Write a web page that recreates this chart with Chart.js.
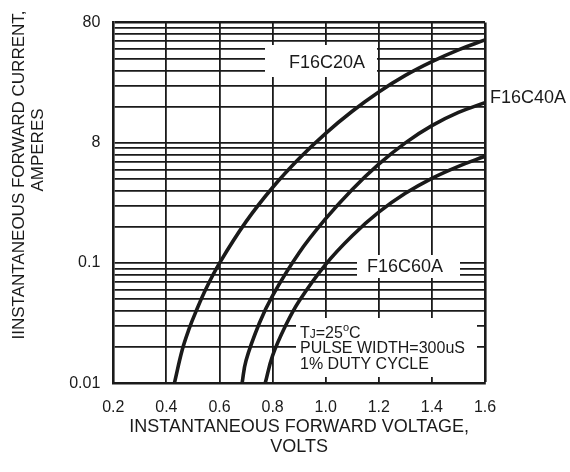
<!DOCTYPE html>
<html>
<head>
<meta charset="utf-8">
<script src="https://cdn.jsdelivr.net/npm/chart.js@4.4.0/dist/chart.umd.min.js"></script>
<style>
  html, body { margin: 0; padding: 0; background: #fff; }
  #wrap { width: 570px; height: 472px; }
</style>
</head>
<body>
<div id="wrap"><canvas id="vf" width="570" height="472"></canvas></div>
<script>
// forward voltage (V) / forward current (A)
const c20V = [0.43, 0.46, 0.485, 0.51, 0.55, 0.60, 0.70, 0.80, 0.90, 1.0, 1.1, 1.2, 1.3, 1.4, 1.5, 1.6];
const c20I = [0.01, 0.0191, 0.0282, 0.0389, 0.0617, 0.1, 0.221, 0.425, 0.741, 1.2, 1.83, 2.65, 3.64, 4.74, 5.94, 7.18];

const c40V = [0.685, 0.70, 0.75, 0.80, 0.90, 1.0, 1.1, 1.2, 1.3, 1.4, 1.5, 1.6];
const c40I = [0.01, 0.0155, 0.0316, 0.0537, 0.122, 0.234, 0.41, 0.665, 1.0, 1.39, 1.79, 2.16];

const c60V = [0.772, 0.80, 0.85, 0.90, 1.0, 1.1, 1.2, 1.3, 1.4, 1.5, 1.6];
const c60I = [0.01, 0.017, 0.0305, 0.0484, 0.0977, 0.169, 0.265, 0.38, 0.507, 0.638, 0.773];

// decade ticks and the labels printed on the sheet
const yDecades = [0.01, 0.1, 1, 10];
const yLabels = ['0.01', '0.1', '8', '80'];
const xMin = 0.2, xMax = 1.6, xStep = 0.2;

const FONT = "'Liberation Sans', Arial, sans-serif";
const INK = '#1a1a1a';

function pts(vs, is) {
    return vs.map((v, i) => ({x: v, y: is[i]}));
}

function curve(vs, is) {
    return {
        data: pts(vs, is),
        borderColor: INK,
        borderWidth: 3.6,
        pointRadius: 0,
        fill: false,
        tension: 0.4
    };
}

const notes = {
    id: 'notes',
    beforeDatasetsDraw(chart) {
        const ctx = chart.ctx;
        ctx.save();
        ctx.fillStyle = '#fff';
        ctx.fillRect(265, 45, 112, 32);
        ctx.fillRect(357, 255, 103, 23);
        ctx.fillRect(296, 318, 181, 59);
        ctx.restore();
    },
    afterDraw(chart) {
        const ctx = chart.ctx;
        ctx.save();
        ctx.fillStyle = INK;
        ctx.textBaseline = 'middle';
        ctx.textAlign = 'center';
        ctx.font = '18px ' + FONT;
        ctx.fillText('F16C20A', 327, 63);
        ctx.fillText('F16C60A', 405, 267);
        ctx.textAlign = 'left';
        ctx.fillText('F16C40A', 490, 98);

        // TJ=25°C block
        ctx.textBaseline = 'alphabetic';
        let x = 300;
        const put = (t, size, dy) => {
            ctx.font = size + 'px ' + FONT;
            ctx.fillText(t, x, 338 + dy);
            x += ctx.measureText(t).width;
        };
        put('T', 16, 0);
        put('J', 12, 0);
        put('=25', 16, 0);
        put('o', 11, -7);
        put('C', 16, 0);
        ctx.font = '16px ' + FONT;
        ctx.fillText('PULSE WIDTH=300uS', 300, 353);
        ctx.fillText('1% DUTY CYCLE', 300, 369);

        // y axis title
        ctx.textAlign = 'center';
        ctx.textBaseline = 'middle';
        ctx.font = '17px ' + FONT;
        ctx.translate(19, 175);
        ctx.rotate(-Math.PI / 2);
        ctx.fillText('IINSTANTANEOUS FORWARD CURRENT,', 0, 0);
        ctx.rotate(Math.PI / 2);
        ctx.translate(19, -25);
        ctx.rotate(-Math.PI / 2);
        ctx.fillText('AMPERES', 0, 0);
        ctx.restore();
    }
};

let ctx = document.getElementById('vf');
let vfChart = new Chart(ctx, {
    type: 'line',
    data: {
        datasets: [curve(c20V, c20I), curve(c40V, c40I), curve(c60V, c60I)]
    },
    options: {
        responsive: false,
        animation: false,
        layout: {
            padding: {top: 13.3, right: 85, bottom: 0, left: 0}
        },
        scales: {
            x: {
                type: 'linear',
                min: xMin,
                max: xMax,
                afterFit: s => { s.height = 88.7; },
                grid: {
                    color: INK,
                    lineWidth: c => (c.tick && c.tick.value >= xMax - 1e-6) ? 2.6 : 1.8,
                    drawTicks: false
                },
                border: {color: INK, width: 2.6},
                ticks: {
                    stepSize: xStep,
                    padding: 15,
                    color: INK,
                    font: {family: FONT, size: 16},
                    callback: v => v.toFixed(1)
                },
                title: {
                    display: true,
                    text: ['INSTANTANEOUS FORWARD VOLTAGE,', 'VOLTS'],
                    color: INK,
                    font: {family: FONT, size: 18, lineHeight: '20px'},
                    padding: {top: 0, bottom: 15.3}
                }
            },
            y: {
                type: 'logarithmic',
                min: yDecades[0],
                max: yDecades[yDecades.length - 1],
                afterFit: s => { s.width = 113.3; },
                afterBuildTicks: s => {
                    const t = [];
                    for (let d = 0; d < yDecades.length - 1; d++) {
                        for (let k = 1; k < 10; k++) {
                            t.push({value: +(yDecades[d] * k).toPrecision(3)});
                        }
                    }
                    t.push({value: yDecades[yDecades.length - 1]});
                    s.ticks = t;
                },
                grid: {
                    color: INK,
                    lineWidth: c => (c.tick && c.tick.value >= 10) ? 2.6 : 1.8,
                    drawTicks: false
                },
                border: {color: INK, width: 2.6},
                ticks: {
                    autoSkip: false,
                    padding: 13,
                    color: INK,
                    font: {family: FONT, size: 16},
                    callback: v => {
                        const i = yDecades.findIndex(d => Math.abs(d - v) < d * 1e-6);
                        return i >= 0 ? yLabels[i] : '';
                    }
                }
            }
        },
        plugins: {
            legend: {display: false},
            tooltip: {enabled: false}
        }
    },
    plugins: [notes]
});
</script>
</body>
</html>
